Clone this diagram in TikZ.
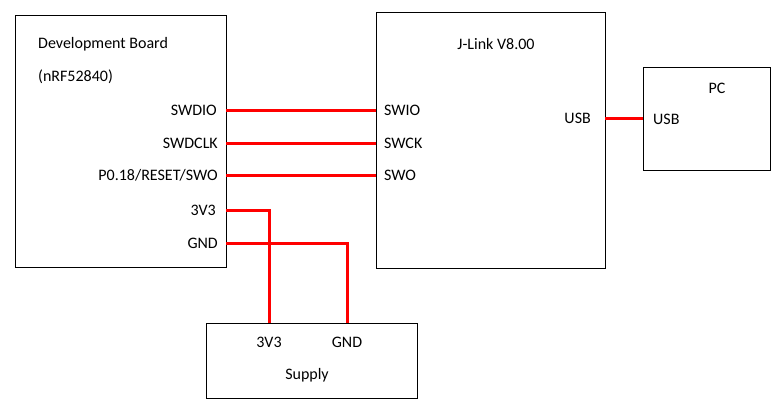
\documentclass[tikz,border=0pt]{standalone}
\usepackage{fontspec}
\setmainfont{Carlito}
\begin{document}
\begin{tikzpicture}[x=1pt, y=-1pt, font=\fontsize{16}{19}\selectfont,
		blk/.style={draw, line width=0.8pt, inner sep=0pt, outer sep=0pt, anchor=north west},
		pin/.style={inner sep=0pt},
		wire/.style={draw=red, line width=3pt}]
	\useasboundingbox (0,0) rectangle (780,407);
	% the four boxes
	\node[blk, minimum width=211, minimum height=252] (dev)    at (15,15)   {};
	\node[blk, minimum width=229, minimum height=256] (jlink)  at (376,12)  {};
	\node[blk, minimum width=127, minimum height=103] (pc)     at (643,67)  {};
	\node[blk, minimum width=211, minimum height=75]  (supply) at (206,323) {};
	% titles
	\node[pin, anchor=west] (devname) at (38,44)  {Development Board};
	\node[pin, anchor=west] (devchip) at (38,77)  {(nRF52840)};
	\node[pin]              (jname)   at (496,44) {J-Link V8.00};
	\node[pin]              (pcname)  at (717,88) {PC};
	\node[pin]              (supname) at (307,375) {Supply};
	% pins of the board
	\node[pin, anchor=east] (dswdio)  at (217,110) {SWDIO};
	\node[pin, anchor=east] (dswdclk) at (218,143) {SWDCLK};
	\node[pin, anchor=east] (dswo)    at (218,175) {P0.18/RESET/SWO};
	\node[pin, anchor=east] (d3v3)    at (216,210) {3V3};
	\node[pin, anchor=east] (dgnd)    at (218,243) {GND};
	% pins of the probe
	\node[pin, anchor=west] (jswio)   at (384,110) {SWIO};
	\node[pin, anchor=west] (jswck)   at (384,143) {SWCK};
	\node[pin, anchor=west] (jswo)    at (384,175) {SWO};
	\node[pin, anchor=east] (jusb)    at (591,118) {USB};
	% pins of the pc and the supply
	\node[pin, anchor=west] (pcusb)   at (653,119) {USB};
	\node[pin]              (s3v3)    at (269,342) {3V3};
	\node[pin]              (sgnd)    at (347,342) {GND};
	% wires
	\draw[wire] (dev.east |- dswdio)  -- (jlink.west |- dswdio);
	\draw[wire] (dev.east |- dswdclk) -- (jlink.west |- dswdclk);
	\draw[wire] (dev.east |- dswo)    -- (jlink.west |- dswo);
	\draw[wire] (jlink.east |- jusb)  -- (pc.west |- jusb);
	\draw[wire] (dev.east |- d3v3)    -| (supply.north -| s3v3);
	\draw[wire] (dev.east |- dgnd)    -| (supply.north -| sgnd);
\end{tikzpicture}
\end{document}
